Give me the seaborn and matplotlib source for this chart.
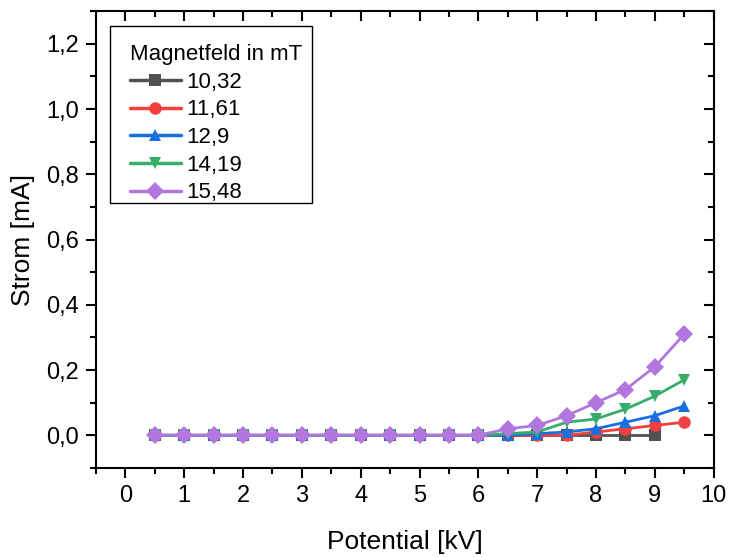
import numpy as np
import pandas as pd
import matplotlib
matplotlib.use("Agg")
import matplotlib.pyplot as plt
import seaborn as sns
from matplotlib.ticker import MultipleLocator, FuncFormatter
from matplotlib.patches import Rectangle

# Data
potential = [0.5, 1.0, 1.5, 2.0, 2.5, 3.0, 3.5, 4.0, 4.5, 5.0, 5.5, 6.0, 6.5, 7.0, 7.5, 8.0, 8.5, 9.0, 9.5]
fields = ["10,32", "11,61", "12,9", "14,19", "15,48"]
strom_1032 = [0, 0, 0, 0, 0, 0, 0, 0, 0, 0, 0, 0, 0, 0, 0, 0, 0, 0]
strom_1161 = [0, 0, 0, 0, 0, 0, 0, 0, 0, 0, 0, 0, 0, 0, 0, 0.01, 0.02, 0.03, 0.04]
strom_129 = [0, 0, 0, 0, 0, 0, 0, 0, 0, 0, 0, 0, 0, 0.005, 0.01, 0.02, 0.04, 0.06, 0.09]
strom_1419 = [0, 0, 0, 0, 0, 0, 0, 0, 0, 0, 0, 0, 0.005, 0.01, 0.04, 0.05, 0.08, 0.12, 0.17]
strom_1548 = [0, 0, 0, 0, 0, 0, 0, 0, 0, 0, 0, 0, 0.02, 0.03, 0.06, 0.10, 0.14, 0.21, 0.31]
series = [strom_1032, strom_1161, strom_129, strom_1419, strom_1548]

rows = []
for f, vals in zip(fields, series):
    for x, y in zip(potential, vals):
        rows.append({"Potential": x, "Strom": y, "Magnetfeld in mT": f})
df = pd.DataFrame(rows)

colors = ["#515151", "#F14040", "#1A6FDF", "#37AD6B", "#B177DE"]
markers = ["s", "o", "^", "v", "D"]

sns.set_style("ticks")
plt.rcParams["font.family"] = ["Liberation Sans", "DejaVu Sans"]
plt.rcParams["text.color"] = "black"
plt.rcParams["axes.labelcolor"] = "black"
plt.rcParams["xtick.color"] = "black"
plt.rcParams["ytick.color"] = "black"

fig = plt.figure(figsize=(7.32, 5.57), dpi=100)
ax = fig.add_axes([0.131, 0.160, 0.844, 0.820])

sns.lineplot(data=df, x="Potential", y="Strom", hue="Magnetfeld in mT",
             style="Magnetfeld in mT", hue_order=fields, style_order=fields,
             palette=colors, markers=markers, dashes=False, linewidth=2,
             markersize=9, markeredgewidth=0, ax=ax)

ax.set_xlim(-0.5, 10)
ax.set_ylim(-0.1, 1.3)
ax.xaxis.set_major_locator(MultipleLocator(1))
ax.xaxis.set_minor_locator(MultipleLocator(0.5))
ax.yaxis.set_major_locator(MultipleLocator(0.2))
ax.yaxis.set_minor_locator(MultipleLocator(0.1))
ax.yaxis.set_major_formatter(FuncFormatter(lambda v, p: f"{v:.1f}".replace(".", ",")))
ax.xaxis.set_major_formatter(FuncFormatter(lambda v, p: f"{v:.0f}"))

for s in ax.spines.values():
    s.set_visible(True)
    s.set_linewidth(1.5)
    s.set_color("black")

ax.tick_params(axis="both", which="major", direction="out", length=7, width=1.5,
               labelsize=17, colors="black", labelcolor="black", top=False, right=False, pad=5)
ax.tick_params(axis="both", which="minor", direction="out", length=4, width=1.5,
               colors="black", top=False, right=False)
# inward ticks on top/right without labels
axt = ax.secondary_xaxis("top")
axt.xaxis.set_major_locator(MultipleLocator(1))
axt.xaxis.set_minor_locator(MultipleLocator(0.5))
axt.tick_params(which="major", direction="in", length=7, width=1.5, labeltop=False, colors="black")
axt.tick_params(which="minor", direction="in", length=4, width=1.5, colors="black")
axr = ax.secondary_yaxis("right")
axr.yaxis.set_major_locator(MultipleLocator(0.2))
axr.yaxis.set_minor_locator(MultipleLocator(0.1))
axr.tick_params(which="major", direction="in", length=7, width=1.5, labelright=False, colors="black")
axr.tick_params(which="minor", direction="in", length=4, width=1.5, colors="black")
axt.spines["top"].set_visible(False)
axr.spines["right"].set_visible(False)

ax.set_xlabel("Potential [kV]", fontsize=19, labelpad=17, color="black")
ax.set_ylabel("Strom [mA]", fontsize=19, labelpad=8, color="black")

leg = ax.legend(title="Magnetfeld in mT", loc="upper left",
                bbox_to_anchor=(34 / 618, 1 - 33 / 457),
                fontsize=16, title_fontsize=16, frameon=False,
                handlelength=2.3, handletextpad=0.25, labelspacing=0.3, borderpad=0.0,
                borderaxespad=0)
leg._legend_box.align = "left"
for h in leg.legend_handles:
    h.set_linewidth(2.5)
for t in leg.get_texts():
    t.set_color("black")
leg.get_title().set_color("black")

# legend frame (Origin-style box)
frame = Rectangle((110 / 732, 1 - 203 / 557), 202 / 732, 177 / 557,
                  transform=fig.transFigure, fill=False, edgecolor="black",
                  linewidth=1.0, zorder=5)
fig.add_artist(frame)

fig.savefig("out.png", dpi=100)
